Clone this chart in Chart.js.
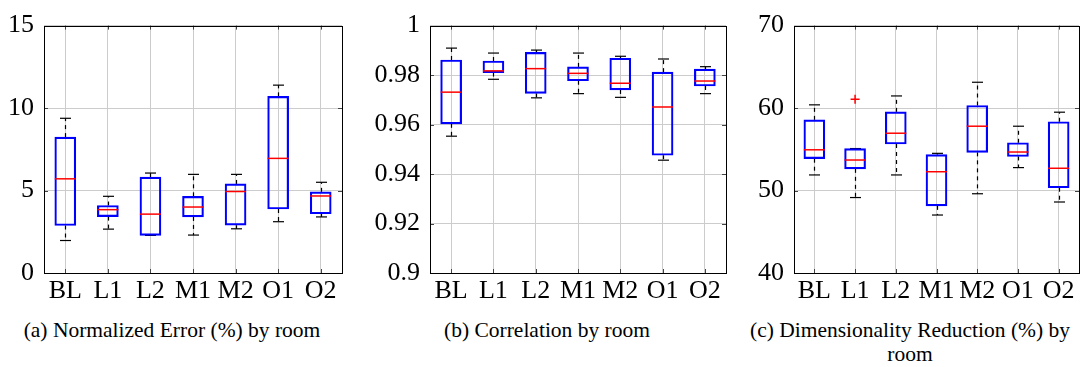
<!DOCTYPE html>
<html>
<head>
<meta charset="utf-8">
<script src="https://cdn.jsdelivr.net/npm/chart.js@4/dist/chart.umd.min.js"></script>
<style>
  body { margin: 0; background: #fff; }
  .panel { position: absolute; top: 0; height: 310px; }
  .cap { position: absolute; font-family: "Liberation Serif", serif; font-size: 21.5px; color: #000; text-align: center; line-height: 24px; }
</style>
</head>
<body>
<div class="panel" style="left:0;width:350px"><canvas id="chartA"></canvas></div>
<div class="panel" style="left:360px;width:372px"><canvas id="chartB"></canvas></div>
<div class="panel" style="left:730px;width:353px"><canvas id="chartC"></canvas></div>
<div class="cap" style="left:0;width:344px;top:318px">(a) Normalized Error (%) by room</div>
<div class="cap" style="left:372px;width:350px;top:318px">(b) Correlation by room</div>
<div class="cap" style="left:740px;width:340px;top:318px">(c) Dimensionality Reduction (%) by<br>room</div>

<script>
// rooms on the x axis
var rooms = ["BL", "L1", "L2", "M1", "M2", "O1", "O2"];

// (a) normalized error
var errLo  = [1.97, 2.66, 2.28, 2.30, 2.68, 3.11, 3.40];
var errQ1  = [2.88, 3.42, 2.28, 3.40, 2.90, 3.88, 3.59];
var errMed = [5.71, 3.84, 3.57, 4.00, 4.94, 6.95, 4.67];
var errQ3  = [8.24, 4.09, 5.81, 4.65, 5.40, 10.71, 4.92];
var errHi  = [9.38, 4.65, 6.06, 5.98, 5.98, 11.39, 5.50];
var errOut = [[], [], [], [], [], [], []];

// (b) correlation
var corLo  = [0.9553, 0.9783, 0.9708, 0.9725, 0.9710, 0.9456, 0.9725];
var corQ1  = [0.9603, 0.9810, 0.9726, 0.9777, 0.9740, 0.9476, 0.9756];
var corMed = [0.9731, 0.9817, 0.9826, 0.9807, 0.9767, 0.9671, 0.9776];
var corQ3  = [0.9861, 0.9857, 0.9892, 0.9833, 0.9868, 0.9812, 0.9824];
var corHi  = [0.9909, 0.9889, 0.9901, 0.9889, 0.9876, 0.9865, 0.9834];
var corOut = [[], [], [], [], [], [], []];

// (c) dimensionality reduction
var dimLo  = [51.89, 49.15, 51.89, 47.03, 49.61, 52.78, 48.61];
var dimQ1  = [53.86, 52.63, 55.64, 48.14, 54.63, 54.13, 50.34];
var dimMed = [54.94, 53.70, 56.95, 52.28, 57.80, 54.67, 52.70];
var dimQ3  = [58.57, 55.09, 59.54, 54.36, 60.31, 55.79, 58.34];
var dimHi  = [60.39, 55.09, 61.47, 54.51, 63.13, 57.80, 59.50];
var dimOut = [[], [61.08], [], [], [], [], []];

var BOX_W = 21;

// whiskers, medians, outliers, frame and inner ticks
var boxPlugin = {
  id: "boxExtras",
  beforeDatasetsDraw: function (chart) {
    var st = chart.options.plugins.boxExtras;
    var xs = chart.scales.x, ys = chart.scales.y, ctx = chart.ctx;
    ctx.save();
    ctx.strokeStyle = "#000";
    ctx.lineWidth = 1.2;
    for (var i = 0; i < rooms.length; i++) {
      var x = Math.round(xs.getPixelForValue(i)) + 0.5;
      var pairs = [[st.q3[i], st.hi[i]], [st.q1[i], st.lo[i]]];
      ctx.setLineDash([4, 4]);
      pairs.forEach(function (p) {
        if (p[0] === p[1]) return;
        ctx.beginPath();
        ctx.moveTo(x, ys.getPixelForValue(p[0]));
        ctx.lineTo(x, ys.getPixelForValue(p[1]));
        ctx.stroke();
      });
      ctx.setLineDash([]);
      [st.hi[i], st.lo[i]].forEach(function (v) {
        var y = ys.getPixelForValue(v);
        ctx.beginPath();
        ctx.moveTo(x - 5.5, y);
        ctx.lineTo(x + 5.5, y);
        ctx.stroke();
      });
    }
    ctx.restore();
  },
  afterDatasetsDraw: function (chart) {
    var st = chart.options.plugins.boxExtras;
    var xs = chart.scales.x, ys = chart.scales.y, ctx = chart.ctx;
    var a = chart.chartArea;
    ctx.save();
    ctx.strokeStyle = "#ff0000";
    ctx.lineWidth = 1.5;
    for (var i = 0; i < rooms.length; i++) {
      var x = xs.getPixelForValue(i);
      var y = ys.getPixelForValue(st.med[i]);
      ctx.beginPath();
      ctx.moveTo(x - BOX_W / 2, y);
      ctx.lineTo(x + BOX_W / 2, y);
      ctx.stroke();
      st.out[i].forEach(function (v) {
        var oy = ys.getPixelForValue(v);
        ctx.beginPath();
        ctx.moveTo(x - 4.5, oy); ctx.lineTo(x + 4.5, oy);
        ctx.moveTo(x, oy - 4.5); ctx.lineTo(x, oy + 4.5);
        ctx.stroke();
      });
    }
    // inner ticks
    ctx.strokeStyle = "#444";
    ctx.lineWidth = 1;
    ys.ticks.forEach(function (t) {
      var y = Math.round(ys.getPixelForValue(t.value)) + 0.5;
      ctx.beginPath();
      ctx.moveTo(a.left, y); ctx.lineTo(a.left + 4, y);
      ctx.moveTo(a.right, y); ctx.lineTo(a.right - 4, y);
      ctx.stroke();
    });
    for (var j = 0; j < rooms.length; j++) {
      var tx = Math.round(xs.getPixelForValue(j)) + 0.5;
      ctx.beginPath();
      ctx.moveTo(tx, a.bottom); ctx.lineTo(tx, a.bottom - 4);
      ctx.moveTo(tx, a.top); ctx.lineTo(tx, a.top + 4);
      ctx.stroke();
    }
    // frame
    ctx.strokeStyle = "#000";
    ctx.strokeRect(Math.round(a.left) + 0.5, Math.round(a.top) + 0.5,
                   Math.round(a.right - a.left), Math.round(a.bottom - a.top));
    ctx.restore();
  }
};

function makeChart(id, q1, med, q3, lo, hi, out, yMin, yMax, step, yWidth, padRight, fmt) {
  var boxes = q1.map(function (v, i) { return [v, q3[i]]; });
  return new Chart(document.getElementById(id).getContext("2d"), {
    type: "bar",
    data: {
      labels: rooms,
      datasets: [{
        data: boxes,
        backgroundColor: "rgba(0,0,0,0)",
        borderColor: "#0000ff",
        borderWidth: 1.5,
        borderSkipped: false,
        barThickness: BOX_W
      }]
    },
    options: {
      responsive: true,
      maintainAspectRatio: false,
      animation: false,
      layout: { padding: { top: 14, right: padRight, bottom: 0, left: 0 } },
      plugins: {
        legend: { display: false },
        tooltip: { enabled: false },
        boxExtras: { q1: q1, med: med, q3: q3, lo: lo, hi: hi, out: out }
      },
      scales: {
        x: {
          grid: { offset: false, color: "#cccccc", drawTicks: false },
          border: { display: false },
          ticks: {
            color: "#000",
            padding: 3,
            autoSkip: false,
            maxRotation: 0,
            minRotation: 0,
            font: { family: "Liberation Serif", size: 26 }
          },
          afterFit: function (s) { s.height = 37; }
        },
        y: {
          min: yMin,
          max: yMax,
          grid: { color: "#cccccc", drawTicks: false },
          border: { display: false },
          ticks: {
            stepSize: step,
            color: "#000",
            padding: 10,
            font: { family: "Liberation Serif", size: 26 },
            callback: fmt
          },
          afterFit: function (s) { s.width = yWidth; }
        }
      }
    },
    plugins: [boxPlugin]
  });
}

function plain(v) { return String(+v.toFixed(2)); }

makeChart("chartA", errQ1, errMed, errQ3, errLo, errHi, errOut, 0, 15, 5, 44, 8, plain);
makeChart("chartB", corQ1, corMed, corQ3, corLo, corHi, corOut, 0.9, 1, 0.02, 70, 6, plain);
makeChart("chartC", dimQ1, dimMed, dimQ3, dimLo, dimHi, dimOut, 40, 70, 10, 64, 4, plain);
</script>
</body>
</html>
